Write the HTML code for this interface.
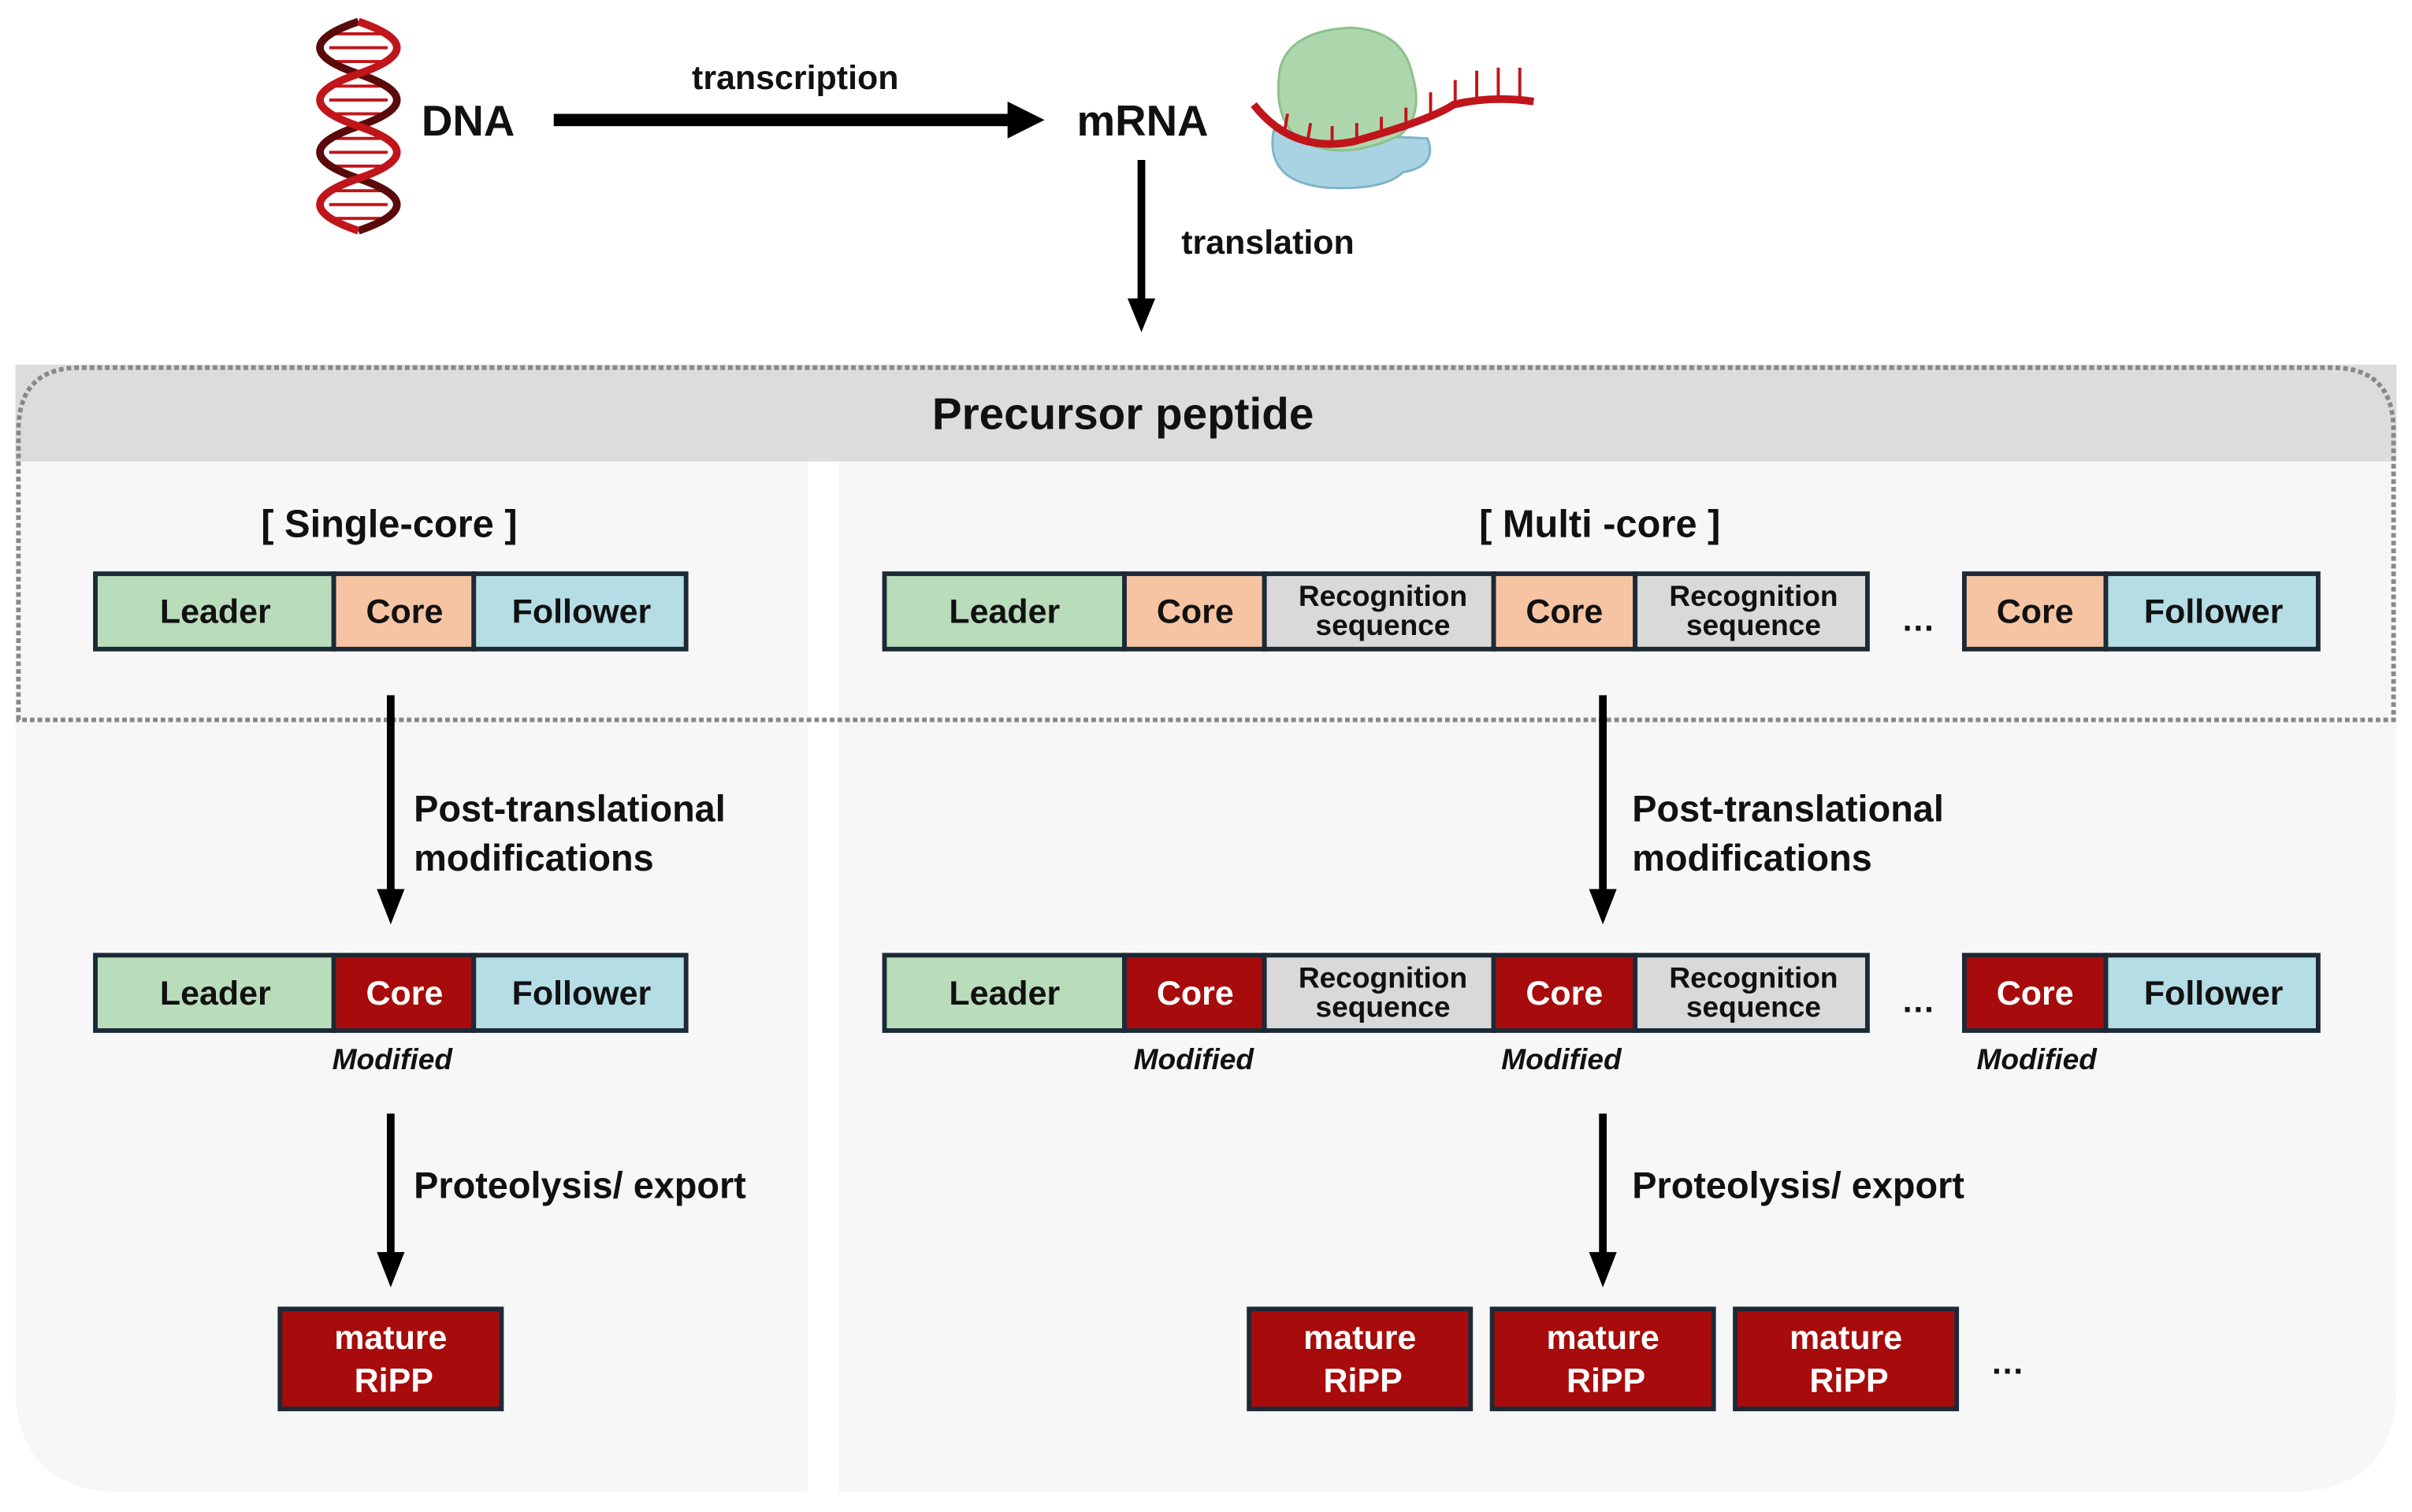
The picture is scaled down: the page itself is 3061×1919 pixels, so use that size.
<!DOCTYPE html>
<html><head><meta charset="utf-8"><style>
html,body{margin:0;padding:0;background:#fff;}
svg{display:block;}
text{font-family:"Liberation Sans",Arial,sans-serif;font-weight:bold;}
.w{fill:#fff;}
.k{fill:#111;}
</style></head><body>
<svg width="3061" height="1919" viewBox="0 0 1568 983" preserveAspectRatio="none" xmlns="http://www.w3.org/2000/svg">
<defs>
<clipPath id="panel"><path d="M10,237 H1558 V900 Q1558,970 1488,970 H80 Q10,970 10,900 Z"/></clipPath>
</defs>

<!-- DNA helix -->
<g stroke="#c0151a" stroke-width="2">
<line x1="218" y1="22" x2="248" y2="22"/><line x1="214" y1="31" x2="252" y2="31"/><line x1="218" y1="40" x2="248" y2="40"/>
<line x1="218" y1="56" x2="248" y2="56"/><line x1="214" y1="65" x2="252" y2="65"/><line x1="218" y1="74" x2="248" y2="74"/>
<line x1="218" y1="90" x2="248" y2="90"/><line x1="214" y1="99" x2="252" y2="99"/><line x1="218" y1="108" x2="248" y2="108"/>
<line x1="218" y1="124" x2="248" y2="124"/><line x1="214" y1="133" x2="252" y2="133"/><line x1="218" y1="142" x2="248" y2="142"/>
</g>
<path d="M233,14 Q183,31 233,48 T233,82 T233,116 T233,150" fill="none" stroke="#5a0a0a" stroke-width="5"/>
<path d="M233,14 Q283,31 233,48 T233,82 T233,116 T233,150" fill="none" stroke="#c0151a" stroke-width="5"/>

<text class="k" x="274" y="88" font-size="28">DNA</text>
<line x1="360" y1="78" x2="660" y2="78" stroke="#000" stroke-width="8"/>
<path d="M655,66 L679,78 L655,90 z" fill="#000"/>
<text class="k" x="517" y="58" font-size="22" text-anchor="middle">transcription</text>
<text class="k" x="700" y="88" font-size="28">mRNA</text>

<!-- ribosome -->
<path d="M828,85 Q822,118 862,122 Q900,124 912,112 Q935,108 928,90 Z" fill="#a9d3e3" stroke="#7fb3c8" stroke-width="1.5"/>
<path d="M832,45 Q838,20 878,18 Q912,20 918,48 Q926,75 910,88 Q880,102 858,96 Q826,88 832,45 Z" fill="#aed6ad" stroke="#8cc08b" stroke-width="1.5"/>
<path d="M815,68 Q840,100 880,92 Q930,78 945,68 Q970,62 997,66" fill="none" stroke="#c0151a" stroke-width="5"/>
<g stroke="#c0151a" stroke-width="2">
<line x1="835" y1="86" x2="837" y2="74"/><line x1="850" y1="92" x2="852" y2="80"/><line x1="866" y1="94" x2="866" y2="82"/>
<line x1="882" y1="92" x2="882" y2="80"/><line x1="898" y1="88" x2="898" y2="76"/><line x1="914" y1="82" x2="914" y2="70"/>
<line x1="930" y1="74" x2="930" y2="60"/><line x1="946" y1="67" x2="946" y2="52"/><line x1="960" y1="63" x2="960" y2="46"/>
<line x1="974" y1="63" x2="974" y2="44"/><line x1="988" y1="64" x2="988" y2="44"/>
</g>

<line x1="742" y1="104" x2="742" y2="198" stroke="#000" stroke-width="5"/>
<path d="M733,194 L742,216 L751,194 z" fill="#000"/>
<text class="k" x="768" y="165" font-size="22">translation</text>

<!-- panel -->
<g clip-path="url(#panel)">
<rect x="10" y="237" width="1548" height="740" fill="#f7f7f7"/>
<rect x="525" y="300" width="20" height="680" fill="#fff"/>
<rect x="10" y="237" width="1548" height="63" fill="#dcdcdc"/>
</g>
<path d="M12,468 V280 Q12,239 52,239 H1516 Q1556,239 1556,280 V468 Z" fill="none" stroke="#888" stroke-width="3" stroke-dasharray="3,2"/>
<text class="k" x="730" y="279" font-size="29" text-anchor="middle">Precursor peptide</text>
<text class="k" x="253" y="349" font-size="25" text-anchor="middle">[ Single-core ]</text>
<text class="k" x="1040" y="349" font-size="25" text-anchor="middle">[ Multi -core ]</text>

<g stroke="#1c2a36" stroke-width="3">
<rect x="62" y="373" width="155" height="49" fill="#b9dcbb"/>
<rect x="217" y="373" width="91" height="49" fill="#f6c4a3"/>
<rect x="308" y="373" width="138" height="49" fill="#b5dde6"/>
<rect x="575" y="373" width="156" height="49" fill="#b9dcbb"/>
<rect x="731" y="373" width="91" height="49" fill="#f6c4a3"/>
<rect x="822" y="373" width="149" height="49" fill="#d9d9d9"/>
<rect x="971" y="373" width="92" height="49" fill="#f6c4a3"/>
<rect x="1063" y="373" width="151" height="49" fill="#d9d9d9"/>
<rect x="1277" y="373" width="92" height="49" fill="#f6c4a3"/>
<rect x="1369" y="373" width="138" height="49" fill="#b5dde6"/>
<rect x="62" y="621" width="155" height="49" fill="#b9dcbb"/>
<rect x="217" y="621" width="91" height="49" fill="#a80b0b"/>
<rect x="308" y="621" width="138" height="49" fill="#b5dde6"/>
<rect x="575" y="621" width="156" height="49" fill="#b9dcbb"/>
<rect x="731" y="621" width="91" height="49" fill="#a80b0b"/>
<rect x="822" y="621" width="149" height="49" fill="#d9d9d9"/>
<rect x="971" y="621" width="92" height="49" fill="#a80b0b"/>
<rect x="1063" y="621" width="151" height="49" fill="#d9d9d9"/>
<rect x="1277" y="621" width="92" height="49" fill="#a80b0b"/>
<rect x="1369" y="621" width="138" height="49" fill="#b5dde6"/>
<rect x="182" y="851" width="144" height="65" fill="#a80b0b"/>
<rect x="812" y="851" width="144" height="65" fill="#a80b0b"/>
<rect x="970" y="851" width="144" height="65" fill="#a80b0b"/>
<rect x="1128" y="851" width="144" height="65" fill="#a80b0b"/>
</g>

<g font-size="22" text-anchor="middle">
<text class="k" x="140" y="405">Leader</text><text class="k" x="263" y="405">Core</text><text class="k" x="378" y="405">Follower</text>
<text class="k" x="653" y="405">Leader</text><text class="k" x="777" y="405">Core</text><text class="k" x="1017" y="405">Core</text>
<text class="k" x="1323" y="405">Core</text><text class="k" x="1439" y="405">Follower</text>
<text class="k" x="140" y="653">Leader</text><text class="k" x="378" y="653">Follower</text>
<text class="k" x="653" y="653">Leader</text><text class="k" x="1439" y="653">Follower</text>
<text class="w" x="263" y="653">Core</text><text class="w" x="777" y="653">Core</text><text class="w" x="1017" y="653">Core</text><text class="w" x="1323" y="653">Core</text>
</g>
<g font-size="19" text-anchor="middle">
<text class="k" x="899" y="394">Recognition</text><text class="k" x="899" y="413">sequence</text>
<text class="k" x="1140" y="394">Recognition</text><text class="k" x="1140" y="413">sequence</text>
<text class="k" x="899" y="642">Recognition</text><text class="k" x="899" y="661">sequence</text>
<text class="k" x="1140" y="642">Recognition</text><text class="k" x="1140" y="661">sequence</text>
</g>
<text class="k" x="1247" y="410" font-size="22" text-anchor="middle">…</text>
<text class="k" x="1247" y="658" font-size="22" text-anchor="middle">…</text>
<text class="k" x="1305" y="893" font-size="22" text-anchor="middle">…</text>
<g font-size="19" font-style="italic" text-anchor="middle">
<text class="k" x="255" y="695">Modified</text><text class="k" x="776" y="695">Modified</text><text class="k" x="1015" y="695">Modified</text><text class="k" x="1324" y="695">Modified</text>
</g>
<g font-size="22" text-anchor="middle">
<text class="w" x="254" y="877">mature</text><text class="w" x="256" y="905">RiPP</text>
<text class="w" x="884" y="877">mature</text><text class="w" x="886" y="905">RiPP</text>
<text class="w" x="1042" y="877">mature</text><text class="w" x="1044" y="905">RiPP</text>
<text class="w" x="1200" y="877">mature</text><text class="w" x="1202" y="905">RiPP</text>
</g>

<g stroke="#000" stroke-width="5">
<line x1="254" y1="452" x2="254" y2="582"/><line x1="1042" y1="452" x2="1042" y2="582"/>
<line x1="254" y1="724" x2="254" y2="818"/><line x1="1042" y1="724" x2="1042" y2="818"/>
</g>
<g fill="#000">
<path d="M245,578 L254,601 L263,578 z"/><path d="M1033,578 L1042,601 L1051,578 z"/>
<path d="M245,814 L254,837 L263,814 z"/><path d="M1033,814 L1042,837 L1051,814 z"/>
</g>
<g font-size="24">
<text class="k" x="269" y="534">Post-translational</text><text class="k" x="269" y="566">modifications</text>
<text class="k" x="1061" y="534">Post-translational</text><text class="k" x="1061" y="566">modifications</text>
<text class="k" x="269" y="779">Proteolysis/ export</text><text class="k" x="1061" y="779">Proteolysis/ export</text>
</g>
</svg>
</body></html>
